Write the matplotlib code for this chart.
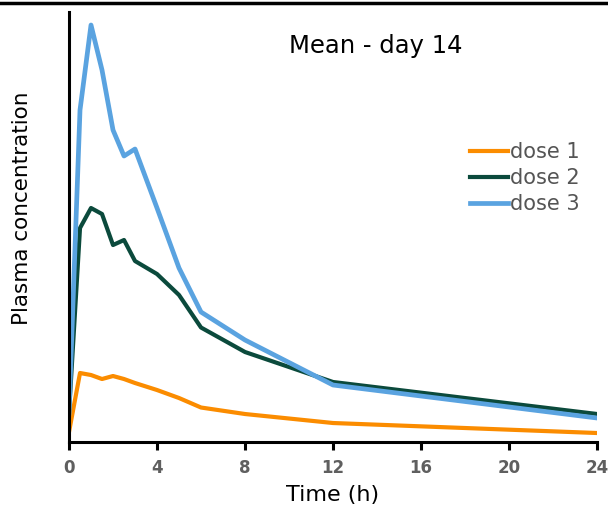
import matplotlib.pyplot as plt
from matplotlib.lines import Line2D

# Sampling times [h]:
times = [0, 0.5, 1, 1.5, 2, 2.5, 3, 4, 5, 6, 8, 12, 24]

# Mean plasma concentrations (arbitrary units):
dose1 = [10, 69, 67, 63, 66, 63, 59, 52, 44, 34.5, 28, 19, 9]
dose2 = [29, 214, 234, 228, 197, 202, 181, 168, 147, 114.5, 90, 60, 28]
dose3 = [29, 332, 417, 372, 312, 286, 293, 234, 174, 130, 102, 57, 24]

labels = ["dose 1", "dose 2", "dose 3"]
colors = ["#FB8C00", "#0B4A3C", "#5AA3E0"]
xTicks = [0, 4, 8, 12, 16, 20, 24]


def main():

    fig = plt.figure(figsize=(6.08, 5.09), dpi=100)
    ax = fig.add_axes([0.1135, 0.1316, 0.8685, 0.8448])

    # Plot the curves:
    ax.plot(times, dose1, color=colors[0], linewidth=3.0, label=labels[0])
    ax.plot(times, dose2, color=colors[1], linewidth=3.0, label=labels[1])
    ax.plot(times, dose3, color=colors[2], linewidth=3.4, label=labels[2])

    ax.set_xlim(0, 24)
    ax.set_ylim(0, 430)

    # Axes styling:
    for side in ["top", "right"]:
        ax.spines[side].set_visible(False)
    for side in ["left", "bottom"]:
        ax.spines[side].set_linewidth(2.2)
        ax.spines[side].set_color("black")

    ax.set_xticks(xTicks)
    ax.set_xticklabels([str(t) for t in xTicks], fontsize=12, fontweight="bold", color="#5f5f5f")
    ax.tick_params(axis="x", direction="out", length=6, width=2.2, pad=6)
    ax.set_yticks([])

    # Axes labels:
    ax.set_xlabel("Time (h)", fontsize=16, labelpad=6)
    ax.set_ylabel("Plasma concentration", fontsize=15.5)
    ax.yaxis.set_label_coords(-0.070, 0.544)

    # Title inside the plot:
    ax.text(0.58, 0.922, "Mean - day 14", transform=ax.transAxes, ha="center", va="center", fontsize=17.5)

    # Legend:
    ax.legend(loc="upper left", bbox_to_anchor=(0.732, 0.731), frameon=False, fontsize=15,
              handlelength=1.8, handletextpad=0.1, labelspacing=0.28, borderpad=0.2, labelcolor="#555555")

    # Top border line:
    fig.add_artist(Line2D([0, 1], [0.994, 0.994], transform=fig.transFigure, color="black", linewidth=2.5))

    fig.savefig("out.png", dpi=100)


if __name__ == "__main__":
    main()
